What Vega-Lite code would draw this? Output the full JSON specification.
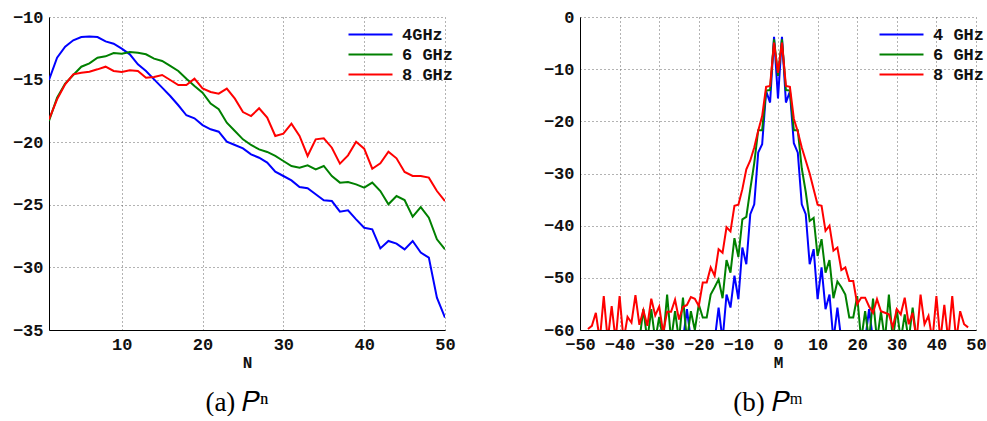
{
  "$schema": "https://vega.github.io/schema/vega-lite/v6.json",
  "padding": {"left": 12, "top": 8, "right": 0, "bottom": 0},
  "bounds": "flush",
  "spacing": 135,
  "background": "white",
  "config": {
    "view": {"stroke": null},
    "axis": {
      "labelFont": "Liberation Mono",
      "labelFontWeight": "bold",
      "labelFontSize": 17,
      "labelColor": "#111",
      "labelFlush": false,
      "labelOverlap": false,
      "labelPadding": 6,
      "domainColor": "#000",
      "domainWidth": 1,
      "ticks": false,
      "grid": true,
      "gridColor": "#666",
      "gridDash": [1, 3],
      "gridWidth": 1,
      "titleFont": "Liberation Mono",
      "titleFontWeight": "bold",
      "titleFontSize": 16,
      "titleColor": "#111",
      "titlePadding": 2
    },
    "legend": {
      "orient": "none",
      "legendX": 313,
      "legendY": 9,
      "title": null,
      "padding": 0,
      "symbolType": "M-4.4,0L4.4,0",
      "symbolSize": 100,
      "symbolStrokeWidth": 2,
      "labelFont": "Liberation Mono",
      "labelFontWeight": "bold",
      "labelFontSize": 17,
      "labelColor": "#111",
      "labelOffset": 23,
      "rowPadding": 2
    },
    "title": {
      "font": "Liberation Serif",
      "fontSize": 27,
      "fontWeight": "normal",
      "color": "#000",
      "orient": "bottom",
      "anchor": "middle",
      "offset": 20,
      "dx": -10
    }
  },
  "datasets": {
    "left": [
      {"f":"4GHz","N":1,"P":-15.03},{"f":"4GHz","N":2,"P":-13.25},{"f":"4GHz","N":3,"P":-12.37},{"f":"4GHz","N":4,"P":-11.86},{"f":"4GHz","N":5,"P":-11.6},
      {"f":"4GHz","N":6,"P":-11.55},{"f":"4GHz","N":7,"P":-11.6},{"f":"4GHz","N":8,"P":-11.95},{"f":"4GHz","N":9,"P":-12.13},{"f":"4GHz","N":10,"P":-12.53},
      {"f":"4GHz","N":11,"P":-12.98},{"f":"4GHz","N":12,"P":-13.78},{"f":"4GHz","N":13,"P":-14.31},{"f":"4GHz","N":14,"P":-14.98},{"f":"4GHz","N":15,"P":-15.64},
      {"f":"4GHz","N":16,"P":-16.31},{"f":"4GHz","N":17,"P":-17.05},{"f":"4GHz","N":18,"P":-17.85},{"f":"4GHz","N":19,"P":-18.09},{"f":"4GHz","N":20,"P":-18.63},
      {"f":"4GHz","N":21,"P":-18.97},{"f":"4GHz","N":22,"P":-19.16},{"f":"4GHz","N":23,"P":-19.96},{"f":"4GHz","N":24,"P":-20.22},{"f":"4GHz","N":25,"P":-20.49},
      {"f":"4GHz","N":26,"P":-20.97},{"f":"4GHz","N":27,"P":-21.24},{"f":"4GHz","N":28,"P":-21.63},{"f":"4GHz","N":29,"P":-22.35},{"f":"4GHz","N":30,"P":-22.7},
      {"f":"4GHz","N":31,"P":-23.05},{"f":"4GHz","N":32,"P":-23.58},{"f":"4GHz","N":33,"P":-23.68},{"f":"4GHz","N":34,"P":-24.16},{"f":"4GHz","N":35,"P":-24.64},
      {"f":"4GHz","N":36,"P":-24.7},{"f":"4GHz","N":37,"P":-25.55},{"f":"4GHz","N":38,"P":-25.44},{"f":"4GHz","N":39,"P":-26.16},{"f":"4GHz","N":40,"P":-26.83},
      {"f":"4GHz","N":41,"P":-26.96},{"f":"4GHz","N":42,"P":-28.48},{"f":"4GHz","N":43,"P":-27.89},{"f":"4GHz","N":44,"P":-28.1},{"f":"4GHz","N":45,"P":-28.56},
      {"f":"4GHz","N":46,"P":-27.89},{"f":"4GHz","N":47,"P":-28.82},{"f":"4GHz","N":48,"P":-29.22},{"f":"4GHz","N":49,"P":-32.42},{"f":"4GHz","N":50,"P":-34.01},
      {"f":"6 GHz","N":1,"P":-18.3},{"f":"6 GHz","N":2,"P":-16.44},{"f":"6 GHz","N":3,"P":-15.32},{"f":"6 GHz","N":4,"P":-14.63},{"f":"6 GHz","N":5,"P":-13.97},
      {"f":"6 GHz","N":6,"P":-13.7},{"f":"6 GHz","N":7,"P":-13.25},{"f":"6 GHz","N":8,"P":-13.14},{"f":"6 GHz","N":9,"P":-12.88},{"f":"6 GHz","N":10,"P":-12.93},
      {"f":"6 GHz","N":11,"P":-12.8},{"f":"6 GHz","N":12,"P":-12.85},{"f":"6 GHz","N":13,"P":-12.98},{"f":"6 GHz","N":14,"P":-13.33},{"f":"6 GHz","N":15,"P":-13.51},
      {"f":"6 GHz","N":16,"P":-13.91},{"f":"6 GHz","N":17,"P":-14.31},{"f":"6 GHz","N":18,"P":-14.93},{"f":"6 GHz","N":19,"P":-15.51},{"f":"6 GHz","N":20,"P":-16.04},
      {"f":"6 GHz","N":21,"P":-16.92},{"f":"6 GHz","N":22,"P":-17.37},{"f":"6 GHz","N":23,"P":-18.44},{"f":"6 GHz","N":24,"P":-19.1},{"f":"6 GHz","N":25,"P":-19.77},
      {"f":"6 GHz","N":26,"P":-20.22},{"f":"6 GHz","N":27,"P":-20.57},{"f":"6 GHz","N":28,"P":-20.78},{"f":"6 GHz","N":29,"P":-21.1},{"f":"6 GHz","N":30,"P":-21.5},
      {"f":"6 GHz","N":31,"P":-21.9},{"f":"6 GHz","N":32,"P":-22.03},{"f":"6 GHz","N":33,"P":-21.85},{"f":"6 GHz","N":34,"P":-22.17},{"f":"6 GHz","N":35,"P":-21.9},
      {"f":"6 GHz","N":36,"P":-22.7},{"f":"6 GHz","N":37,"P":-23.23},{"f":"6 GHz","N":38,"P":-23.18},{"f":"6 GHz","N":39,"P":-23.37},{"f":"6 GHz","N":40,"P":-23.63},
      {"f":"6 GHz","N":41,"P":-23.23},{"f":"6 GHz","N":42,"P":-23.9},{"f":"6 GHz","N":43,"P":-24.96},{"f":"6 GHz","N":44,"P":-24.3},{"f":"6 GHz","N":45,"P":-24.62},
      {"f":"6 GHz","N":46,"P":-25.95},{"f":"6 GHz","N":47,"P":-25.18},{"f":"6 GHz","N":48,"P":-26.03},{"f":"6 GHz","N":49,"P":-27.76},{"f":"6 GHz","N":50,"P":-28.56},
      {"f":"8 GHz","N":1,"P":-18.17},{"f":"8 GHz","N":2,"P":-16.58},{"f":"8 GHz","N":3,"P":-15.38},{"f":"8 GHz","N":4,"P":-14.58},{"f":"8 GHz","N":5,"P":-14.45},
      {"f":"8 GHz","N":6,"P":-14.37},{"f":"8 GHz","N":7,"P":-14.18},{"f":"8 GHz","N":8,"P":-13.97},{"f":"8 GHz","N":9,"P":-14.31},{"f":"8 GHz","N":10,"P":-14.39},
      {"f":"8 GHz","N":11,"P":-14.26},{"f":"8 GHz","N":12,"P":-14.31},{"f":"8 GHz","N":13,"P":-14.85},{"f":"8 GHz","N":14,"P":-14.79},{"f":"8 GHz","N":15,"P":-14.63},
      {"f":"8 GHz","N":16,"P":-15.03},{"f":"8 GHz","N":17,"P":-15.43},{"f":"8 GHz","N":18,"P":-15.43},{"f":"8 GHz","N":19,"P":-14.93},{"f":"8 GHz","N":20,"P":-15.7},
      {"f":"8 GHz","N":21,"P":-15.99},{"f":"8 GHz","N":22,"P":-16.12},{"f":"8 GHz","N":23,"P":-15.72},{"f":"8 GHz","N":24,"P":-16.52},{"f":"8 GHz","N":25,"P":-17.59},
      {"f":"8 GHz","N":26,"P":-17.91},{"f":"8 GHz","N":27,"P":-17.29},{"f":"8 GHz","N":28,"P":-18.04},{"f":"8 GHz","N":29,"P":-19.5},{"f":"8 GHz","N":30,"P":-19.32},
      {"f":"8 GHz","N":31,"P":-18.52},{"f":"8 GHz","N":32,"P":-19.5},{"f":"8 GHz","N":33,"P":-21.1},{"f":"8 GHz","N":34,"P":-19.77},{"f":"8 GHz","N":35,"P":-19.69},
      {"f":"8 GHz","N":36,"P":-20.44},{"f":"8 GHz","N":37,"P":-21.71},{"f":"8 GHz","N":38,"P":-21.05},{"f":"8 GHz","N":39,"P":-19.96},{"f":"8 GHz","N":40,"P":-20.52},
      {"f":"8 GHz","N":41,"P":-22.12},{"f":"8 GHz","N":42,"P":-21.69},{"f":"8 GHz","N":43,"P":-20.76},{"f":"8 GHz","N":44,"P":-21.29},{"f":"8 GHz","N":45,"P":-22.38},
      {"f":"8 GHz","N":46,"P":-22.7},{"f":"8 GHz","N":47,"P":-22.7},{"f":"8 GHz","N":48,"P":-22.83},{"f":"8 GHz","N":49,"P":-23.9},{"f":"8 GHz","N":50,"P":-24.7}
    ],
    "right": [
      {"f":"4 GHz","M":-24,"P":-62},{"f":"4 GHz","M":-23,"P":-56},{"f":"4 GHz","M":-22,"P":-62},{"f":"4 GHz","M":-21,"P":-62},{"f":"4 GHz","M":-20,"P":-62},
      {"f":"4 GHz","M":-19,"P":-62},{"f":"4 GHz","M":-18,"P":-62},{"f":"4 GHz","M":-17,"P":-62},{"f":"4 GHz","M":-16,"P":-62},{"f":"4 GHz","M":-15,"P":-55.7},
      {"f":"4 GHz","M":-14,"P":-62},{"f":"4 GHz","M":-13,"P":-53.2},{"f":"4 GHz","M":-12,"P":-55.7},{"f":"4 GHz","M":-11,"P":-49.6},{"f":"4 GHz","M":-10,"P":-54.1},
      {"f":"4 GHz","M":-9,"P":-44.2},{"f":"4 GHz","M":-8,"P":-47.4},{"f":"4 GHz","M":-7,"P":-37.8},{"f":"4 GHz","M":-6,"P":-35.9},{"f":"4 GHz","M":-5,"P":-26},
      {"f":"4 GHz","M":-4,"P":-24.4},{"f":"4 GHz","M":-3,"P":-14.2},{"f":"4 GHz","M":-2,"P":-16.4},{"f":"4 GHz","M":-1,"P":-3.8},{"f":"4 GHz","M":0,"P":-15.6},
      {"f":"4 GHz","M":1,"P":-3.8},{"f":"4 GHz","M":2,"P":-16.4},{"f":"4 GHz","M":3,"P":-14.3},{"f":"4 GHz","M":4,"P":-24.2},{"f":"4 GHz","M":5,"P":-26},
      {"f":"4 GHz","M":6,"P":-35.9},{"f":"4 GHz","M":7,"P":-37.8},{"f":"4 GHz","M":8,"P":-47.4},{"f":"4 GHz","M":9,"P":-44.5},{"f":"4 GHz","M":10,"P":-54.1},
      {"f":"4 GHz","M":11,"P":-48},{"f":"4 GHz","M":12,"P":-56},{"f":"4 GHz","M":13,"P":-53.2},{"f":"4 GHz","M":14,"P":-62},{"f":"4 GHz","M":15,"P":-55.7},
      {"f":"4 GHz","M":16,"P":-62},{"f":"4 GHz","M":17,"P":-62},{"f":"4 GHz","M":18,"P":-62},{"f":"4 GHz","M":19,"P":-62},{"f":"4 GHz","M":20,"P":-62},
      {"f":"4 GHz","M":21,"P":-62},{"f":"4 GHz","M":22,"P":-62},{"f":"4 GHz","M":23,"P":-56},{"f":"4 GHz","M":24,"P":-62},
      {"f":"6 GHz","M":-36,"P":-62},{"f":"6 GHz","M":-35,"P":-62},{"f":"6 GHz","M":-34,"P":-56},{"f":"6 GHz","M":-33,"P":-62},{"f":"6 GHz","M":-32,"P":-56},
      {"f":"6 GHz","M":-31,"P":-62},{"f":"6 GHz","M":-30,"P":-57.5},{"f":"6 GHz","M":-29,"P":-62},{"f":"6 GHz","M":-28,"P":-53.2},{"f":"6 GHz","M":-27,"P":-62},
      {"f":"6 GHz","M":-26,"P":-56.4},{"f":"6 GHz","M":-25,"P":-62},{"f":"6 GHz","M":-24,"P":-53.8},{"f":"6 GHz","M":-23,"P":-62},{"f":"6 GHz","M":-22,"P":-56.4},
      {"f":"6 GHz","M":-21,"P":-60},{"f":"6 GHz","M":-20,"P":-55.1},{"f":"6 GHz","M":-19,"P":-57.6},{"f":"6 GHz","M":-18,"P":-57.6},{"f":"6 GHz","M":-17,"P":-53.2},
      {"f":"6 GHz","M":-16,"P":-51.8},{"f":"6 GHz","M":-15,"P":-50.3},{"f":"6 GHz","M":-14,"P":-53.9},{"f":"6 GHz","M":-13,"P":-46.6},{"f":"6 GHz","M":-12,"P":-49},
      {"f":"6 GHz","M":-11,"P":-42.4},{"f":"6 GHz","M":-10,"P":-46},{"f":"6 GHz","M":-9,"P":-38.8},{"f":"6 GHz","M":-8,"P":-38.3},{"f":"6 GHz","M":-7,"P":-33},
      {"f":"6 GHz","M":-6,"P":-28},{"f":"6 GHz","M":-5,"P":-21.7},{"f":"6 GHz","M":-4,"P":-21.7},{"f":"6 GHz","M":-3,"P":-14.1},{"f":"6 GHz","M":-2,"P":-14},
      {"f":"6 GHz","M":-1,"P":-4.3},{"f":"6 GHz","M":0,"P":-11.3},{"f":"6 GHz","M":1,"P":-4.3},{"f":"6 GHz","M":2,"P":-14},{"f":"6 GHz","M":3,"P":-14.1},
      {"f":"6 GHz","M":4,"P":-21.7},{"f":"6 GHz","M":5,"P":-21.7},{"f":"6 GHz","M":6,"P":-29},{"f":"6 GHz","M":7,"P":-33.5},{"f":"6 GHz","M":8,"P":-39.1},
      {"f":"6 GHz","M":9,"P":-38.5},{"f":"6 GHz","M":10,"P":-45.8},{"f":"6 GHz","M":11,"P":-42.6},{"f":"6 GHz","M":12,"P":-49},{"f":"6 GHz","M":13,"P":-46.6},
      {"f":"6 GHz","M":14,"P":-53.9},{"f":"6 GHz","M":15,"P":-50.7},{"f":"6 GHz","M":16,"P":-51.8},{"f":"6 GHz","M":17,"P":-53.2},{"f":"6 GHz","M":18,"P":-57.6},
      {"f":"6 GHz","M":19,"P":-57.6},{"f":"6 GHz","M":20,"P":-53.5},{"f":"6 GHz","M":21,"P":-62},{"f":"6 GHz","M":22,"P":-56.4},{"f":"6 GHz","M":23,"P":-62},
      {"f":"6 GHz","M":24,"P":-54},{"f":"6 GHz","M":25,"P":-62},{"f":"6 GHz","M":26,"P":-56.5},{"f":"6 GHz","M":27,"P":-62},{"f":"6 GHz","M":28,"P":-53.2},
      {"f":"6 GHz","M":29,"P":-62},{"f":"6 GHz","M":30,"P":-56},{"f":"6 GHz","M":31,"P":-62},{"f":"6 GHz","M":32,"P":-57},{"f":"6 GHz","M":33,"P":-62},
      {"f":"6 GHz","M":34,"P":-55.7},{"f":"6 GHz","M":35,"P":-62},{"f":"6 GHz","M":36,"P":-62},
      {"f":"8 GHz","M":-48,"P":-59.8},{"f":"8 GHz","M":-47,"P":-59.2},{"f":"8 GHz","M":-46,"P":-56.7},{"f":"8 GHz","M":-45,"P":-62},{"f":"8 GHz","M":-44,"P":-53.5},
      {"f":"8 GHz","M":-43,"P":-62},{"f":"8 GHz","M":-42,"P":-55.4},{"f":"8 GHz","M":-41,"P":-62},{"f":"8 GHz","M":-40,"P":-53.5},{"f":"8 GHz","M":-39,"P":-62},
      {"f":"8 GHz","M":-38,"P":-57.5},{"f":"8 GHz","M":-37,"P":-58.6},{"f":"8 GHz","M":-36,"P":-53.3},{"f":"8 GHz","M":-35,"P":-59},{"f":"8 GHz","M":-34,"P":-56.2},
      {"f":"8 GHz","M":-33,"P":-59.2},{"f":"8 GHz","M":-32,"P":-54},{"f":"8 GHz","M":-31,"P":-57.2},{"f":"8 GHz","M":-30,"P":-55.5},{"f":"8 GHz","M":-29,"P":-60.5},
      {"f":"8 GHz","M":-28,"P":-56.5},{"f":"8 GHz","M":-27,"P":-56.5},{"f":"8 GHz","M":-26,"P":-54.2},{"f":"8 GHz","M":-25,"P":-58},{"f":"8 GHz","M":-24,"P":-55.6},
      {"f":"8 GHz","M":-23,"P":-55.2},{"f":"8 GHz","M":-22,"P":-53.7},{"f":"8 GHz","M":-21,"P":-54},{"f":"8 GHz","M":-20,"P":-55.4},{"f":"8 GHz","M":-19,"P":-50.9},
      {"f":"8 GHz","M":-18,"P":-50.9},{"f":"8 GHz","M":-17,"P":-48},{"f":"8 GHz","M":-16,"P":-49.6},{"f":"8 GHz","M":-15,"P":-44.5},{"f":"8 GHz","M":-14,"P":-45.2},
      {"f":"8 GHz","M":-13,"P":-40.3},{"f":"8 GHz","M":-12,"P":-41.1},{"f":"8 GHz","M":-11,"P":-36.2},{"f":"8 GHz","M":-10,"P":-36},{"f":"8 GHz","M":-9,"P":-33},
      {"f":"8 GHz","M":-8,"P":-29.2},{"f":"8 GHz","M":-7,"P":-27.5},{"f":"8 GHz","M":-6,"P":-25},{"f":"8 GHz","M":-5,"P":-21.8},{"f":"8 GHz","M":-4,"P":-19},
      {"f":"8 GHz","M":-3,"P":-13.4},{"f":"8 GHz","M":-2,"P":-13.2},{"f":"8 GHz","M":-1,"P":-4.9},{"f":"8 GHz","M":0,"P":-10.7},{"f":"8 GHz","M":1,"P":-4.9},
      {"f":"8 GHz","M":2,"P":-13.2},{"f":"8 GHz","M":3,"P":-13.4},{"f":"8 GHz","M":4,"P":-19.5},{"f":"8 GHz","M":5,"P":-22},{"f":"8 GHz","M":6,"P":-25},
      {"f":"8 GHz","M":7,"P":-27.5},{"f":"8 GHz","M":8,"P":-30},{"f":"8 GHz","M":9,"P":-33},{"f":"8 GHz","M":10,"P":-36},{"f":"8 GHz","M":11,"P":-36.2},
      {"f":"8 GHz","M":12,"P":-41},{"f":"8 GHz","M":13,"P":-40},{"f":"8 GHz","M":14,"P":-44.8},{"f":"8 GHz","M":15,"P":-44.2},{"f":"8 GHz","M":16,"P":-48.5},
      {"f":"8 GHz","M":17,"P":-48},{"f":"8 GHz","M":18,"P":-50.6},{"f":"8 GHz","M":19,"P":-50.6},{"f":"8 GHz","M":20,"P":-55},{"f":"8 GHz","M":21,"P":-53.8},
      {"f":"8 GHz","M":22,"P":-53.8},{"f":"8 GHz","M":23,"P":-55.5},{"f":"8 GHz","M":24,"P":-56.7},{"f":"8 GHz","M":25,"P":-54.1},{"f":"8 GHz","M":26,"P":-56.4},
      {"f":"8 GHz","M":27,"P":-56.7},{"f":"8 GHz","M":28,"P":-57},{"f":"8 GHz","M":29,"P":-59.5},{"f":"8 GHz","M":30,"P":-56},{"f":"8 GHz","M":31,"P":-57},
      {"f":"8 GHz","M":32,"P":-53.8},{"f":"8 GHz","M":33,"P":-58.9},{"f":"8 GHz","M":34,"P":-56.7},{"f":"8 GHz","M":35,"P":-62},{"f":"8 GHz","M":36,"P":-53.2},
      {"f":"8 GHz","M":37,"P":-58.9},{"f":"8 GHz","M":38,"P":-57.3},{"f":"8 GHz","M":39,"P":-62},{"f":"8 GHz","M":40,"P":-53.5},{"f":"8 GHz","M":41,"P":-62},
      {"f":"8 GHz","M":42,"P":-55.2},{"f":"8 GHz","M":43,"P":-62},{"f":"8 GHz","M":44,"P":-53.5},{"f":"8 GHz","M":45,"P":-62},{"f":"8 GHz","M":46,"P":-56.4},
      {"f":"8 GHz","M":47,"P":-58.9},{"f":"8 GHz","M":48,"P":-59.5}
    ]
  },
  "hconcat": [
    {
      "width": 396,
      "height": 313,
      "data": {"name": "left"},
      "title": {"text": "(a) 𝑃ⁿ"},
      "mark": {"type": "line", "strokeWidth": 2, "clip": true},
      "encoding": {
        "x": {"field": "N", "type": "quantitative", "scale": {"domain": [1, 50], "nice": false, "zero": false},
              "axis": {"values": [10, 20, 30, 40, 50], "title": "N"}},
        "y": {"field": "P", "type": "quantitative", "scale": {"domain": [-35, -10], "nice": false, "zero": false},
              "axis": {"values": [-35, -30, -25, -20, -15, -10], "title": null}},
        "color": {"field": "f", "type": "nominal",
                  "scale": {"domain": ["4GHz", "6 GHz", "8 GHz"], "range": ["#0000ff", "#008000", "#ff0000"]}}
      }
    },
    {
      "width": 396,
      "height": 313,
      "data": {"name": "right"},
      "title": {"text": "(b) 𝑃ᵐ"},
      "mark": {"type": "line", "strokeWidth": 2, "clip": true},
      "encoding": {
        "x": {"field": "M", "type": "quantitative", "scale": {"domain": [-50, 50], "nice": false, "zero": false},
              "axis": {"values": [-50, -40, -30, -20, -10, 0, 10, 20, 30, 40, 50], "title": "M"}},
        "y": {"field": "P", "type": "quantitative", "scale": {"domain": [-60, 0], "nice": false, "zero": false},
              "axis": {"values": [-60, -50, -40, -30, -20, -10, 0], "title": null}},
        "color": {"field": "f", "type": "nominal",
                  "scale": {"domain": ["4 GHz", "6 GHz", "8 GHz"], "range": ["#0000ff", "#008000", "#ff0000"]}}
      }
    }
  ],
  "resolve": {"scale": {"color": "independent"}}
}
